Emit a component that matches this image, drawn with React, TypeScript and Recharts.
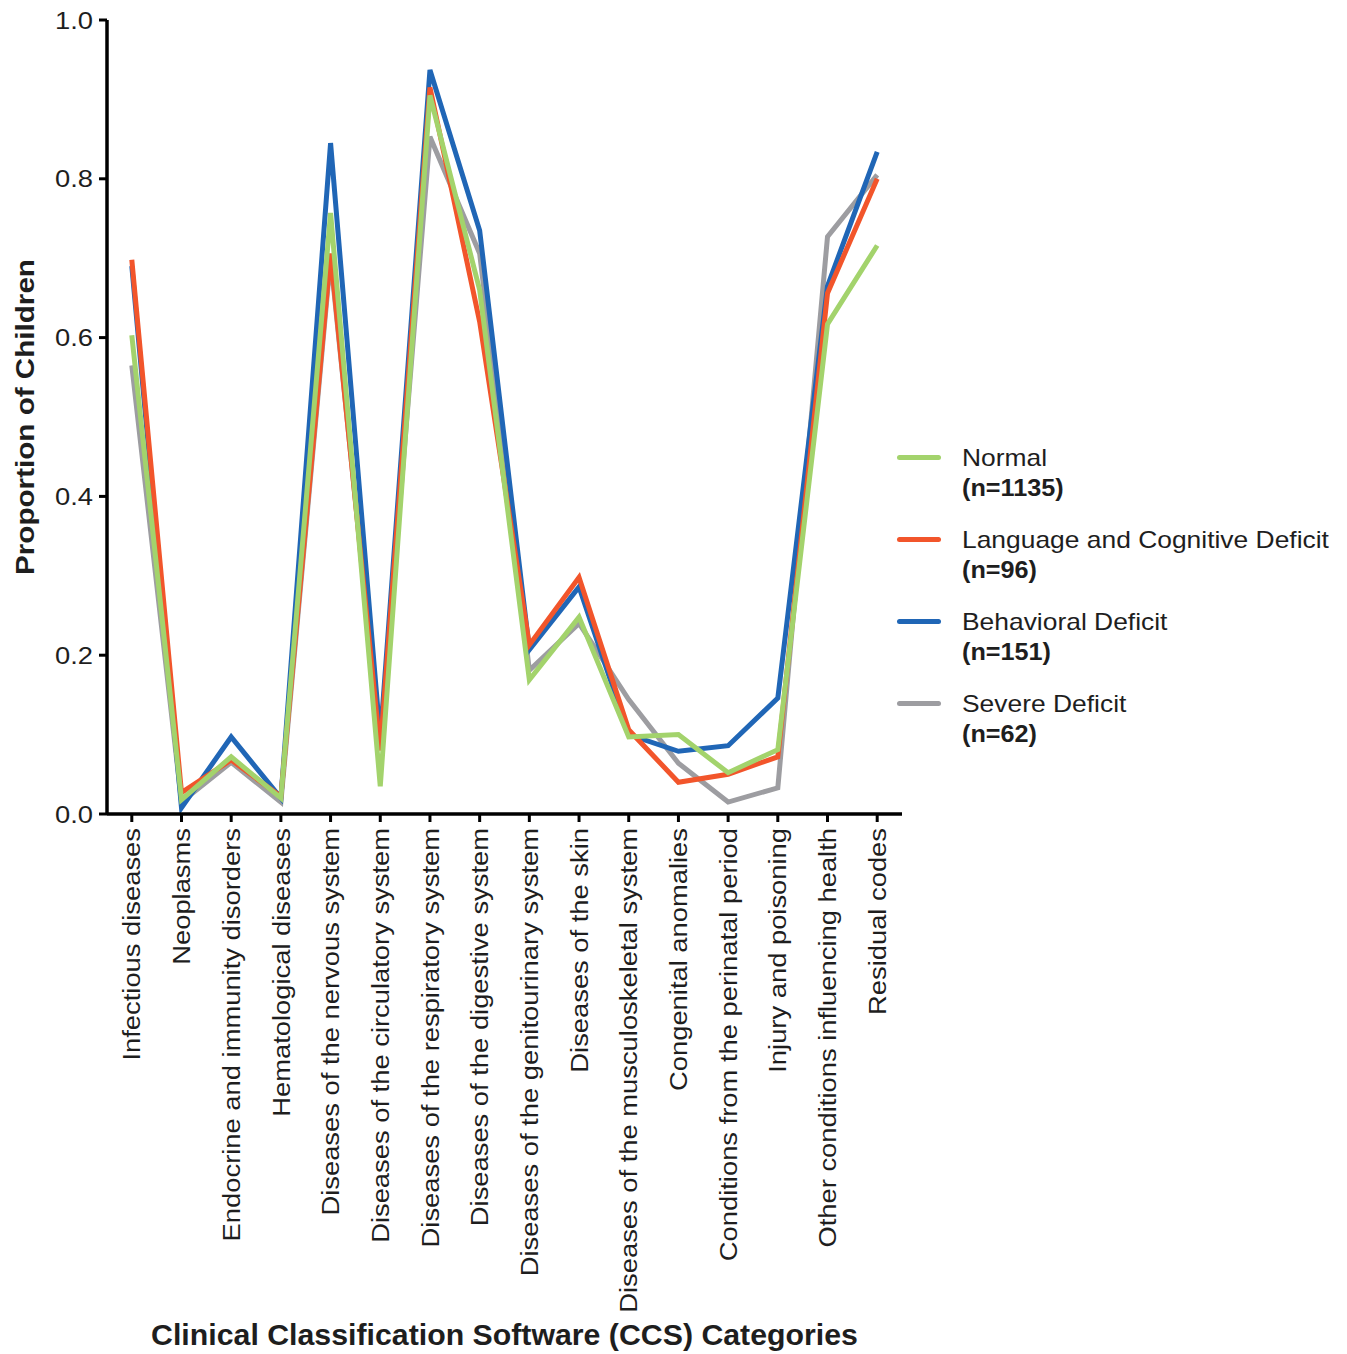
import React from 'react';
import { LineChart, Line, XAxis, YAxis } from 'recharts';

const CATEGORIES = [
  'Infectious diseases',
  'Neoplasms',
  'Endocrine and immunity disorders',
  'Hematological diseases',
  'Diseases of the nervous system',
  'Diseases of the circulatory system',
  'Diseases of the respiratory system',
  'Diseases of the digestive system',
  'Diseases of the genitourinary system',
  'Diseases of the skin',
  'Diseases of the musculoskeletal system',
  'Congenital anomalies',
  'Conditions from the perinatal period',
  'Injury and poisoning',
  'Other conditions influencing health',
  'Residual codes',
];

const NORMAL = [0.603, 0.018, 0.072, 0.02, 0.757, 0.035, 0.905, 0.66, 0.169, 0.248, 0.097, 0.1, 0.052, 0.081, 0.617, 0.716];
const LANGUAGE = [0.698, 0.027, 0.068, 0.022, 0.706, 0.08, 0.915, 0.62, 0.213, 0.298, 0.106, 0.04, 0.05, 0.072, 0.656, 0.8];
const BEHAVIORAL = [0.69, 0.008, 0.097, 0.02, 0.845, 0.095, 0.937, 0.735, 0.207, 0.286, 0.1, 0.079, 0.086, 0.146, 0.665, 0.834];
const SEVERE = [0.565, 0.015, 0.065, 0.015, 0.7, 0.09, 0.853, 0.706, 0.181, 0.24, 0.144, 0.064, 0.015, 0.033, 0.727, 0.805];

const Y_TICKS = [0, 0.2, 0.4, 0.6, 0.8, 1.0];

// legend order (top to bottom)
const SERIES = [
  { key: 'normal', name: 'Normal', n: '(n=1135)', color: '#a3d36c' },
  { key: 'language', name: 'Language and Cognitive Deficit', n: '(n=96)', color: '#f2552b' },
  { key: 'behavioral', name: 'Behavioral Deficit', n: '(n=151)', color: '#2066b6' },
  { key: 'severe', name: 'Severe Deficit', n: '(n=62)', color: '#9d9da1' },
];
// drawing order: green ends up on top
const DRAW_ORDER = ['severe', 'behavioral', 'language', 'normal'];

const data = CATEGORIES.map((c, i) => ({
  category: c,
  normal: NORMAL[i],
  language: LANGUAGE[i],
  behavioral: BEHAVIORAL[i],
  severe: SEVERE[i],
}));

const FONT = '"Liberation Sans", Arial, Helvetica, sans-serif';
const INK = '#1e1e1e';

const XTick = (props: any) => {
  const { x, y, payload } = props;
  return (
    <g transform={`translate(${x},${y + 4})`}>
      <text
        transform="rotate(-90) scale(1.14,1)"
        textAnchor="end"
        dy="0.36em"
        fontSize={24}
        fontFamily={FONT}
        fill={INK}
      >
        {payload.value}
      </text>
    </g>
  );
};

const YTick = (props: any) => {
  const { x, y, payload } = props;
  return (
    <g transform={`translate(${x - 4},${y})`}>
      <text transform="scale(1.14,1)" textAnchor="end" dy="0.36em" fontSize={24} fontFamily={FONT} fill={INK}>
        {Number(payload.value).toFixed(1)}
      </text>
    </g>
  );
};

const XTitle = (props: any) => {
  const vb = props.viewBox;
  const cx = vb.x + vb.width / 2;
  return (
    <g transform={`translate(${cx},${vb.y + vb.height - 9})`}>
      <text transform="scale(1.045,1)" textAnchor="middle" fontSize={29} fontWeight="bold" fontFamily={FONT} fill={INK}>
        Clinical Classification Software (CCS) Categories
      </text>
    </g>
  );
};

const YTitle = (props: any) => {
  const vb = props.viewBox;
  const cy = vb.y + vb.height / 2;
  return (
    <g transform={`translate(${25},${cy})`}>
      <text transform="rotate(-90) scale(1.14,1)" textAnchor="middle" dy="0.36em" fontSize={26} fontWeight="bold" fontFamily={FONT} fill={INK}>
        Proportion of Children
      </text>
    </g>
  );
};

const LegendBox = () => (
  <div style={{ position: 'absolute', left: 897, top: 443, fontFamily: FONT, color: INK }}>
    {SERIES.map(s => (
      <div key={s.key} style={{ position: 'relative', height: 82 }}>
        <div style={{ position: 'absolute', left: 0, top: 12, width: 44, height: 5, borderRadius: 3, background: s.color }} />
        <div style={{ position: 'absolute', left: 65, top: 0, whiteSpace: 'nowrap' }}>
          <div style={{ fontSize: 24, lineHeight: '30px', transform: 'scaleX(1.1)', transformOrigin: 'left' }}>{s.name}</div>
          <div style={{ fontSize: 24, lineHeight: '30px', fontWeight: 'bold', transform: 'scaleX(1.05)', transformOrigin: 'left' }}>{s.n}</div>
        </div>
      </div>
    ))}
  </div>
);

export default function App() {
  return (
    <div style={{ position: 'absolute', left: 0, top: 0, width: 1347, height: 1354, background: '#fff' }}>
      <LineChart width={1347} height={1354} data={data} margin={{ top: 20, right: 445, bottom: 0, left: 0 }}>
        <XAxis
          dataKey="category"
          type="category"
          interval={0}
          height={540}
          padding={{ left: 24.8, right: 24.8 }}
          axisLine={{ stroke: '#000', strokeWidth: 3.5 }}
          tickLine={{ stroke: '#000', strokeWidth: 3 }}
          tickSize={8}
          tick={<XTick />}
          label={{ content: <XTitle /> }}
        />
        <YAxis
          width={107}
          domain={[0, 1]}
          ticks={Y_TICKS}
          interval={0}
          axisLine={{ stroke: '#000', strokeWidth: 3.5 }}
          tickLine={{ stroke: '#000', strokeWidth: 3 }}
          tickSize={8}
          tick={<YTick />}
          label={{ content: <YTitle /> }}
        />
        {DRAW_ORDER.map(k => {
          const s = SERIES.find(v => v.key === k)!;
          return (
            <Line
              key={s.key}
              type="linear"
              dataKey={s.key}
              name={s.name}
              stroke={s.color}
              strokeWidth={5}
              dot={false}
              activeDot={false}
              isAnimationActive={false}
            />
          );
        })}
      </LineChart>
      <LegendBox />
    </div>
  );
}
